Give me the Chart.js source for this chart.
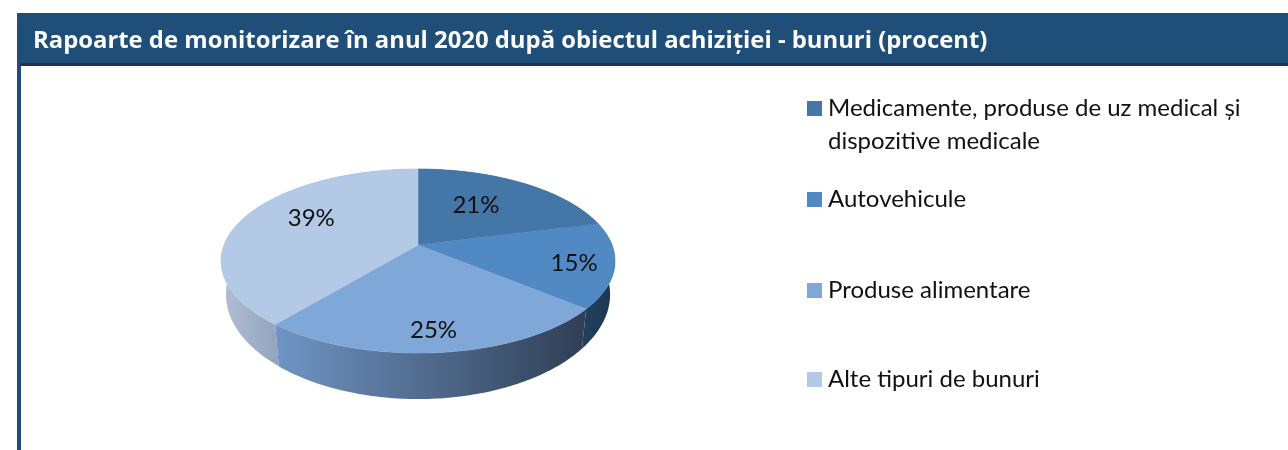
<!DOCTYPE html>
<html lang="ro">
<head>
<meta charset="utf-8">
<title>Rapoarte de monitorizare</title>
<script src="https://cdn.jsdelivr.net/npm/chart.js@4/dist/chart.umd.min.js"></script>
<style>
html,body{margin:0;padding:0;background:#fff;overflow:hidden}
#wrap{position:relative;width:1288px;height:450px}
canvas{position:absolute;left:0;top:0}
#legend{position:absolute;left:0;top:0;font-family:Lato,sans-serif;font-size:24px;line-height:33px;color:#111}
.item{position:absolute;left:828px;width:440px}
.sw{position:absolute;left:-21px;top:11px;width:15px;height:15px}
</style>
</head>
<body>
<div id="wrap"><canvas id="c" width="1288" height="450"></canvas><div id="legend"></div></div>
<script>
const titleText = "Rapoarte de monitorizare în anul 2020 după obiectul achiziției - bunuri (procent)";
const categories = ["Medicamente, produse de uz medical și dispozitive medicale","Autovehicule","Produse alimentare","Alte tipuri de bunuri"];
const values = [21,15,25,39];
const sliceColors = ["#4476a7","#5089c3","#7fa7d8","#b4c9e6"];
const sideGradients = [["#2c4f73","#2c4f73"],["#1f3f5e","#1c3650"],["#7095c4","#2f3e54"],["#b2bfd4","#94a5c0"]];
const labelNudges = [[-18,5],[20,4],[1,14],[16,-6]];
const legendTops = [90,181,272,361];

const PERSPECTIVE = 0.174, FLATTEN = 0.46, DEPTH = 31.4, BASE_SHRINK = 0.975, LEGEND_GUTTER = 485;

function project(el, frac, ang, base){
  const u = frac*Math.cos(ang), v = frac*Math.sin(ang);
  const d = 1 - PERSPECTIVE*v, R = el.outerRadius;
  return {
    x: el.x + R*u/d*(base?BASE_SHRINK:1),
    y: el.y + R*FLATTEN*v/d + (base?DEPTH/(d*d):0)
  };
}
function arcPoints(el, base, reverse){
  const n = Math.max(8, Math.round((el.endAngle-el.startAngle)*60)), pts = [];
  for(let i=0;i<=n;i++){
    const t = el.startAngle + (el.endAngle-el.startAngle)*(reverse? (n-i)/n : i/n);
    pts.push(project(el,1,t,base));
  }
  return pts;
}
const pie3d = {
  id:"pie3d",
  start(chart){
    // reserves the room of the legend column without narrowing the title box
    Chart.layouts.addBox(chart,{
      position:"right",weight:0,fullSize:false,options:{},left:0,top:0,right:0,bottom:0,width:LEGEND_GUTTER,height:0,
      isHorizontal(){return false;},
      update(w,h){this.width=LEGEND_GUTTER;this.height=h;},
      draw(){}
    });
  },
  beforeDraw(chart){
    const ctx = chart.ctx;
    ctx.save();
    ctx.fillStyle="#fff"; ctx.fillRect(0,0,1288,450);
    ctx.fillStyle="#1f4e79";
    ctx.fillRect(17,13,1271,50);
    ctx.fillRect(17,63,4,387);
    ctx.fillStyle="#262f54";
    ctx.fillRect(20,63,1268,3);
    ctx.restore();
  },
  beforeDatasetDraw(chart,args){
    const ctx = chart.ctx, els = args.meta.data;
    ctx.save();
    els.forEach((el,i)=>{
      const top = arcPoints(el,false,false), bot = arcPoints(el,true,true);
      const all = top.concat(bot);
      const visible = top.filter(p=>p.y>el.y);
      const vx = (visible.length?visible:top).map(p=>p.x);
      const g = ctx.createLinearGradient(Math.min(...vx),0,Math.max(...vx),0);
      g.addColorStop(0,sideGradients[i][0]); g.addColorStop(1,sideGradients[i][1]);
      ctx.beginPath();
      all.forEach((p,k)=>k?ctx.lineTo(p.x,p.y):ctx.moveTo(p.x,p.y));
      ctx.closePath();
      ctx.fillStyle=g; ctx.fill();
    });
    els.forEach((el,i)=>{
      ctx.beginPath();
      ctx.moveTo(el.x,el.y);
      arcPoints(el,false,false).forEach(p=>ctx.lineTo(p.x,p.y));
      ctx.closePath();
      ctx.fillStyle=sliceColors[i]; ctx.strokeStyle=sliceColors[i]; ctx.lineWidth=.6;
      ctx.fill(); ctx.stroke();
    });
    ctx.fillStyle="#111"; ctx.font="24px Lato, sans-serif";
    ctx.textAlign="center"; ctx.textBaseline="middle";
    els.forEach((el,i)=>{
      const p = project(el,.7,(el.startAngle+el.endAngle)/2,false);
      ctx.fillText(values[i]+"%",p.x+labelNudges[i][0],p.y+labelNudges[i][1]);
    });
    ctx.restore();
    return false;
  }
};
new Chart(document.getElementById("c"),{
  type:"pie",
  data:{labels:categories,datasets:[{data:values,backgroundColor:sliceColors,borderWidth:0}]},
  options:{
    responsive:false,animation:false,
    layout:{padding:{left:33,right:0,top:0,bottom:11}},
    plugins:{
      legend:{display:false},tooltip:{enabled:false},
      title:{display:true,text:titleText,align:"start",color:"#fff",
        font:{family:"'Open Sans', sans-serif",size:23.85,weight:"bold",lineHeight:20/23.85},
        padding:{top:31,bottom:0}}
    }
  },
  plugins:[pie3d]
});
const lg = document.getElementById("legend");
categories.forEach((c,i)=>{
  const d = document.createElement("div"); d.className="item"; d.style.top=legendTops[i]+"px";
  d.textContent=c;
  const s = document.createElement("span"); s.className="sw"; s.style.background=sliceColors[i];
  d.appendChild(s); lg.appendChild(d);
});
</script>
</body>
</html>
